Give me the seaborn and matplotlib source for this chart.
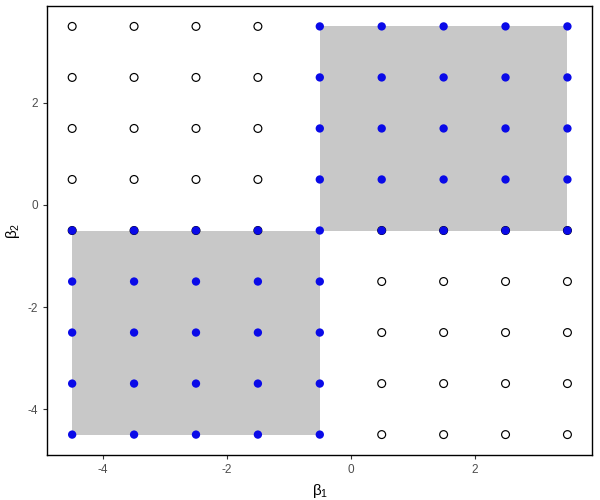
import numpy as np
import pandas as pd
import matplotlib
matplotlib.use("Agg")
import matplotlib.pyplot as plt
import seaborn as sns
from matplotlib.patches import Rectangle

# сетка значений
levels = [-4.5, -3.5, -2.5, -1.5, -0.5, 0.5, 1.5, 2.5, 3.5]

# закрашенные области (x0, y0, x1, y1)
regions = [(-4.5, -4.5, -0.5, -0.5), (-0.5, -0.5, 3.5, 3.5)]

# синие точки: внутри областей (с границами)
blue_pts = [(x, y) for x in levels for y in levels
            if (x <= -0.5 and y <= -0.5) or (x >= -0.5 and y >= -0.5)]
# пустые кружки: вне областей и строка y=-0.5 (кроме x=-0.5)
open_pts = [(x, y) for x in levels for y in levels
            if not ((x <= -0.5 and y <= -0.5) or (x >= -0.5 and y >= -0.5))]
open_pts += [(x, -0.5) for x in levels if x != -0.5]

blue_df = pd.DataFrame(blue_pts, columns=["b1", "b2"])
open_df = pd.DataFrame(open_pts, columns=["b1", "b2"])

sns.set_style("white")
plt.rcParams["font.family"] = ["Liberation Sans", "DejaVu Sans"]
plt.rcParams["mathtext.fontset"] = "custom"
plt.rcParams["mathtext.rm"] = "Liberation Sans"
plt.rcParams["axes.unicode_minus"] = False

fig = plt.figure(figsize=(6, 5), dpi=100)
ax = fig.add_axes([0.079, 0.09, 0.908, 0.898])

for x0, y0, x1, y1 in regions:
    ax.add_patch(Rectangle((x0, y0), x1 - x0, y1 - y0,
                           facecolor="#C8C8C8", edgecolor="none", zorder=1))

sns.scatterplot(data=open_df, x="b1", y="b2", ax=ax, s=32,
                facecolor="none", edgecolor="black", linewidth=0.85, zorder=2)
sns.scatterplot(data=blue_df, x="b1", y="b2", ax=ax, s=36,
                color="#0A0AE8", edgecolor="none", linewidth=0, zorder=3)

ax.set_xlim(-4.9, 3.9)
ax.set_ylim(-4.9, 3.9)
ax.set_xticks([-4, -2, 0, 2])
ax.set_yticks([-4, -2, 0, 2])
ax.set_xlabel(r"$\mathregular{\beta_1}$", fontsize=11, color="black")
ax.set_ylabel(r"$\mathregular{\beta_2}$", fontsize=11, color="black")
ax.tick_params(axis="both", direction="out", length=3, width=0.8,
               color="#333333", labelsize=8.5, labelcolor="#4D4D4D",
               bottom=True, left=True)
for sp in ax.spines.values():
    sp.set_color("black")
    sp.set_linewidth(1.0)

fig.savefig("out.png", dpi=100)
